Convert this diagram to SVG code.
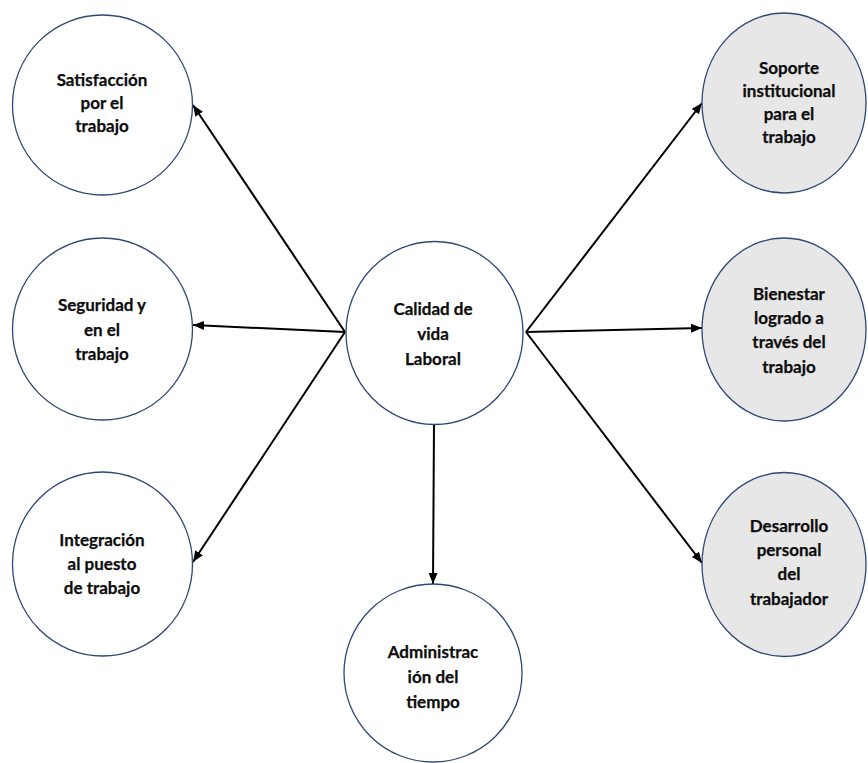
<svg xmlns="http://www.w3.org/2000/svg" width="868" height="763" viewBox="0 0 868 763">
<defs>
<style>
.n{stroke:#2E4775;stroke-width:1.3;}
.w{fill:#FFFFFF;}
.g{fill:#E7E7E7;}
.t{font-family:Lato,"Open Sans","Liberation Sans",sans-serif;font-weight:bold;font-size:17px;fill:#0D0D0D;text-anchor:middle;stroke:#0D0D0D;stroke-width:0.25;}
.c{stroke:#000;stroke-width:2;fill:none;marker-end:url(#ah);}
</style>
<marker id="ah" markerUnits="userSpaceOnUse" markerWidth="12" markerHeight="10" refX="11" refY="5" orient="auto">
<path d="M0,0.5 L11,5 L0,9.5 z" fill="#000"/>
</marker>
</defs>
<rect width="868" height="763" fill="#FFFFFF"/>
<g id="connectors">
<line class="c" x1="345" y1="332" x2="193" y2="105"/>
<line class="c" x1="345" y1="332" x2="193" y2="325"/>
<line class="c" x1="345" y1="332" x2="193" y2="562"/>
<line class="c" x1="434" y1="425" x2="433" y2="584"/>
<line class="c" x1="526" y1="332" x2="702" y2="103"/>
<line class="c" x1="526" y1="332" x2="702" y2="328"/>
<line class="c" x1="526" y1="332" x2="702" y2="563"/>
</g>
<g id="satisfaccion">
<ellipse class="n w" cx="102.5" cy="105" rx="90" ry="90"/>
<text class="t" x="102" y="86">Satisfacción</text>
<text class="t" x="102" y="109">por el</text>
<text class="t" x="102" y="132">trabajo</text>
</g>
<g id="seguridad">
<ellipse class="n w" cx="102.5" cy="329" rx="90" ry="91"/>
<text class="t" x="102" y="311">Seguridad y</text>
<text class="t" x="102" y="336">en el</text>
<text class="t" x="102" y="360">trabajo</text>
</g>
<g id="integracion">
<ellipse class="n w" cx="102.5" cy="564" rx="90" ry="92"/>
<text class="t" x="102" y="546">Integración</text>
<text class="t" x="102" y="570">al puesto</text>
<text class="t" x="102" y="594">de trabajo</text>
</g>
<g id="calidad">
<ellipse class="n w" cx="434.5" cy="333" rx="88.5" ry="91.5"/>
<text class="t" x="433" y="315">Calidad de</text>
<text class="t" x="433" y="340">vida</text>
<text class="t" x="433" y="365">Laboral</text>
</g>
<g id="administracion">
<ellipse class="n w" cx="433" cy="673" rx="89" ry="89"/>
<text class="t" x="433" y="658">Administrac</text>
<text class="t" x="433" y="683">ión del</text>
<text class="t" x="433" y="708">tiempo</text>
</g>
<g id="soporte">
<ellipse class="n g" cx="784" cy="103" rx="82" ry="90"/>
<text class="t" x="789" y="74">Soporte</text>
<text class="t" x="789" y="97">institucional</text>
<text class="t" x="789" y="120">para el</text>
<text class="t" x="789" y="143">trabajo</text>
</g>
<g id="bienestar">
<ellipse class="n g" cx="784" cy="329.5" rx="82" ry="91.5"/>
<text class="t" x="789" y="300">Bienestar</text>
<text class="t" x="789" y="324">logrado a</text>
<text class="t" x="789" y="348">través del</text>
<text class="t" x="789" y="373">trabajo</text>
</g>
<g id="desarrollo">
<ellipse class="n g" cx="784" cy="564.5" rx="82" ry="92"/>
<text class="t" x="789" y="532">Desarrollo</text>
<text class="t" x="789" y="556">personal</text>
<text class="t" x="789" y="580">del</text>
<text class="t" x="789" y="605">trabajador</text>
</g>
</svg>
